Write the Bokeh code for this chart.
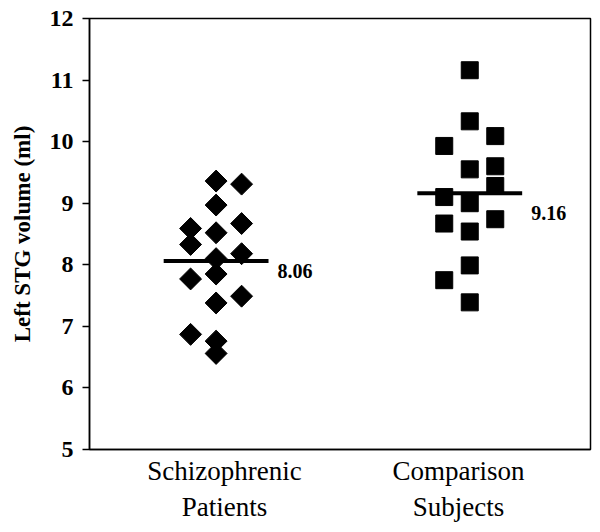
import numpy as np
from bokeh.plotting import figure
from bokeh.models import Range1d, FixedTicker, ColumnDataSource
from bokeh.core.properties import value
from bokeh.embed import file_html
from bokeh.resources import INLINE

# ---- data ----
categories = ["Schizophrenic\nPatients", "Comparison\nSubjects"]
y_ticks = [5, 6, 7, 8, 9, 10, 11, 12]

schizo_vals = [9.36, 9.31, 8.97, 8.67, 8.59, 8.52, 8.33, 8.18, 8.10, 7.85, 7.77, 7.49, 7.38, 6.87, 6.76, 6.56]
schizo_col = [0, 1, 0, 1, -1, 0, -1, 1, 0, 0, -1, 1, 0, -1, 0, 0]

comp_vals = [11.16, 10.33, 10.09, 9.93, 9.55, 9.60, 9.28, 9.10, 9.00, 8.67, 8.74, 8.54, 7.99, 7.75, 7.39]
comp_col = [0, 0, 1, -1, 0, 1, 1, -1, 0, -1, 1, 0, 0, -1, 0]

means = [8.06, 9.16]
mean_labels = ["8.06", "9.16"]

# ---- layout helpers ----
label_pos = [1, 2]
group_center = [0.964, 2.048]
col_spacing = 0.109
mean_half = 0.224

SERIF = "Liberation Serif"

p = figure(width=592, height=524, output_backend="svg", toolbar_location=None,
           x_range=Range1d(0.423, 2.564), y_range=Range1d(5, 12),
           min_border_left=89, min_border_right=2, min_border_top=18, min_border_bottom=71)

p.grid.visible = False
p.background_fill_color = "white"
p.border_fill_color = "white"
p.outline_line_color = "black"
p.outline_line_width = 1.5

# y axis
ya = p.yaxis[0]
ya.ticker = FixedTicker(ticks=y_ticks)
ya.minor_tick_line_color = None
ya.major_tick_out = 7
ya.major_tick_in = 0
ya.major_tick_line_width = 1.5
ya.axis_line_width = 1.5
ya.major_label_text_font = SERIF
ya.major_label_text_font_style = "bold"
ya.major_label_text_font_size = "24px"
ya.major_label_text_color = "black"
ya.major_label_standoff = 9
ya.axis_label = "Left STG volume (ml)"
ya.axis_label_text_font = SERIF
ya.axis_label_text_font_style = "bold"
ya.axis_label_text_font_size = "23px"
ya.axis_label_text_color = "black"
ya.axis_label_standoff = 12

# x axis
xa = p.xaxis[0]
xa.ticker = FixedTicker(ticks=label_pos)
xa.major_label_overrides = {label_pos[i]: categories[i] for i in range(2)}
xa.minor_tick_line_color = None
xa.major_tick_out = 0
xa.major_tick_in = 0
xa.axis_line_width = 1.5
xa.major_label_text_font = SERIF
xa.major_label_text_font_size = "27px"
xa.major_label_text_color = "black"
xa.major_label_standoff = 6

# points
sx = [group_center[0] + c * col_spacing for c in schizo_col]
cx = [group_center[1] + c * col_spacing for c in comp_col]
p.scatter(sx, schizo_vals, marker="square", angle=np.pi / 4, size=15.5,
          fill_color="black", line_color="black")
p.scatter(cx, comp_vals, marker="square", size=17, fill_color="black", line_color="black")

# mean lines
x0 = [g - mean_half for g in group_center]
x1 = [g + mean_half for g in group_center]
p.segment(x0=x0, y0=means, x1=x1, y1=means, line_color="black", line_width=4)

src = ColumnDataSource(dict(x=x1, y=means, t=mean_labels, yo=[9.5, 20]))
p.text(x="x", y="y", text="t", source=src, x_offset=9, y_offset="yo",
       text_font=value(SERIF), text_font_style="bold", text_font_size="20px",
       text_baseline="middle", text_align="left", text_color="black")

open("out.html", "w").write(file_html(p, INLINE))
